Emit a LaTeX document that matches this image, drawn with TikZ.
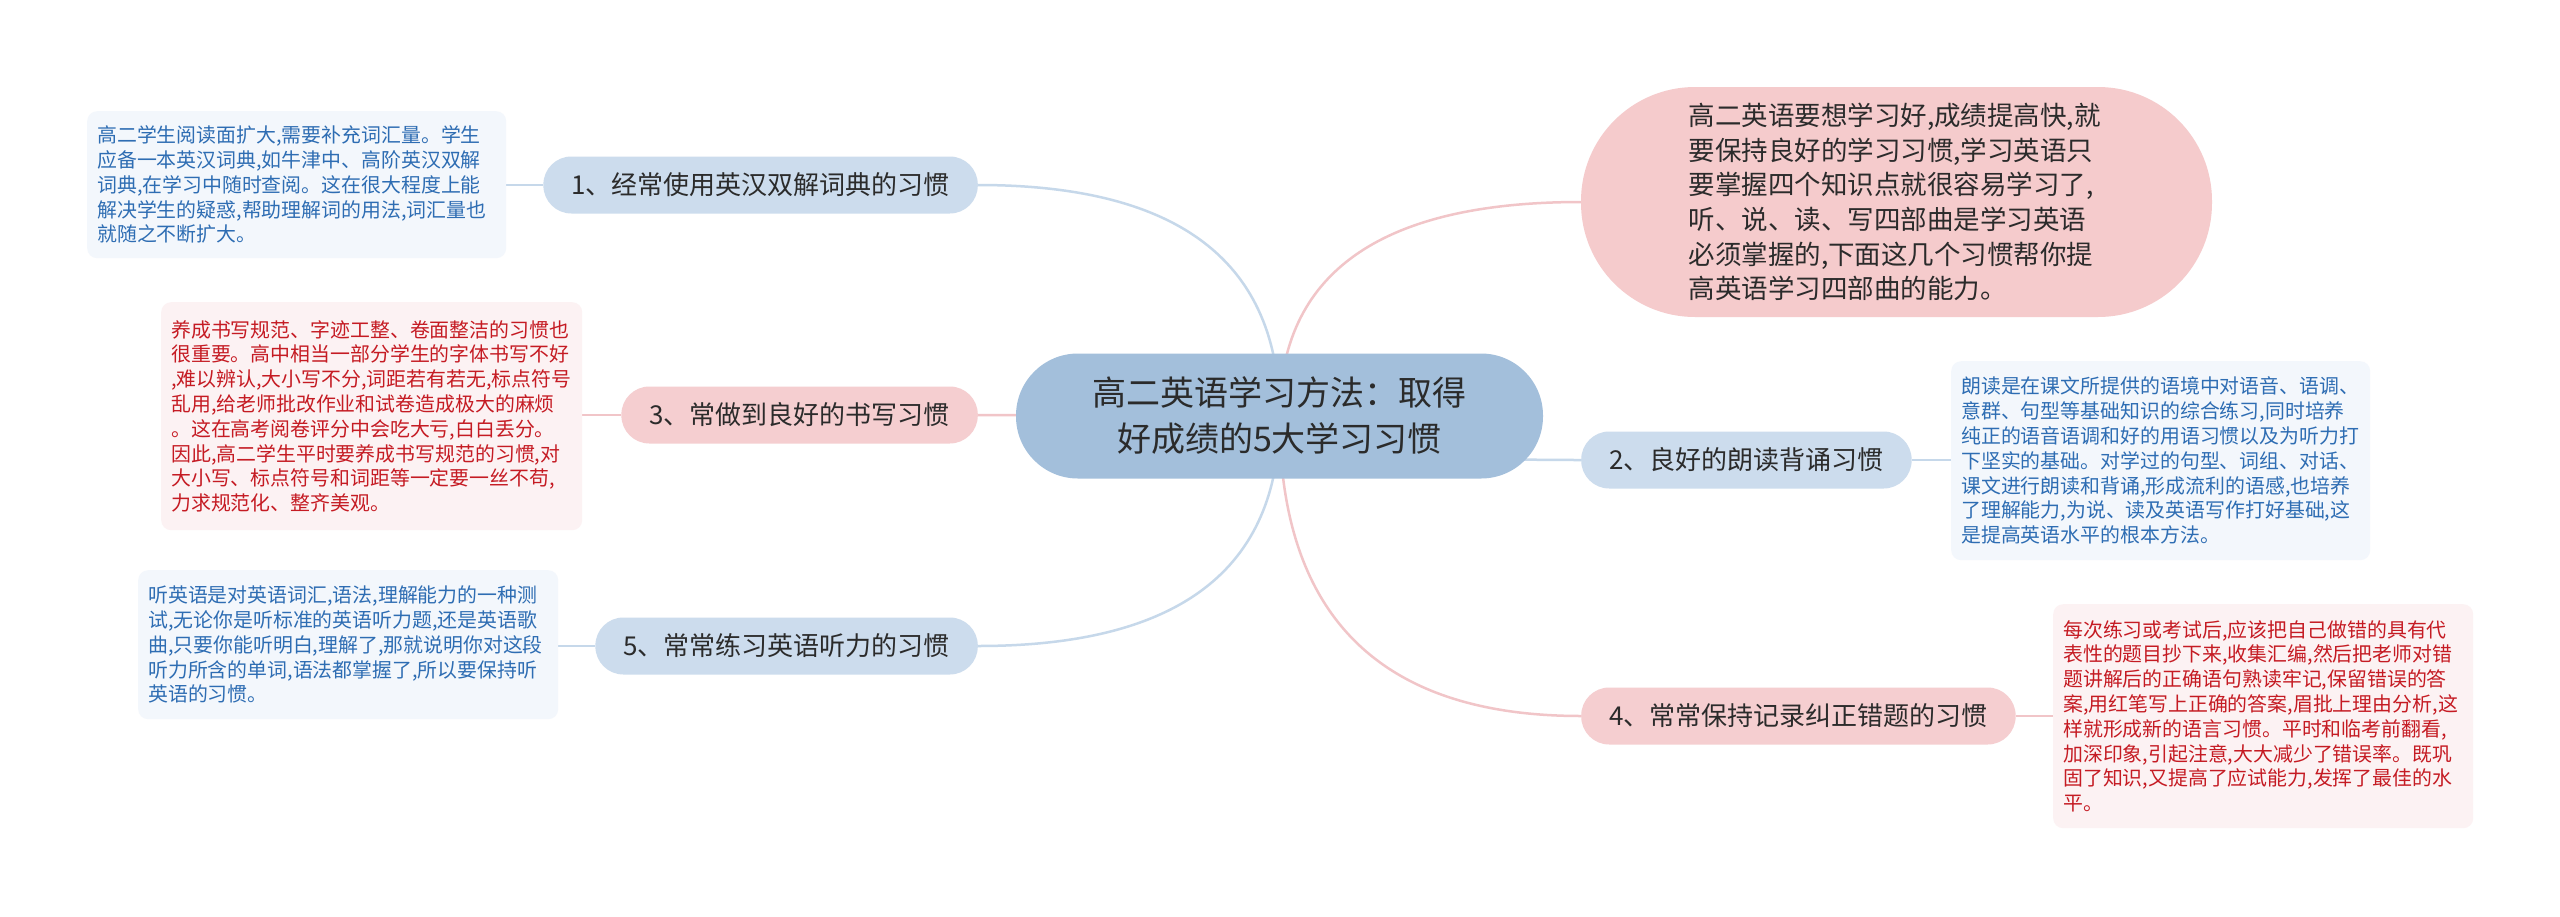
\documentclass[tikz,border=0pt]{standalone}
\usepackage{fontspec}
\setmainfont{Noto Sans CJK SC}
\usetikzlibrary{calc,backgrounds}
\definecolor{cfill}{HTML}{A3BFDB}
\definecolor{bblue}{HTML}{CCDCED}
\definecolor{bpink}{HTML}{F5CED0}
\definecolor{tpink}{HTML}{F5CBCC}
\definecolor{lblue}{HTML}{F3F7FC}
\definecolor{lpink}{HTML}{FCF2F3}
\definecolor{tblue}{HTML}{2E6DB3}
\definecolor{tred}{HTML}{C51B23}
\definecolor{txt}{HTML}{2B2B2B}
\definecolor{lnblue}{HTML}{C6D8EA}
\definecolor{lnpink}{HTML}{F1C5C8}
\newcommand\mmcurve[3]{\draw[#1] (#2.center) .. controls ($(#2.center)!0.667!(#2.center |- #3)$) and ($(#3)!0.667!(#2.center |- #3)$) .. (#3);}
\begin{document}
\begin{tikzpicture}[x=1pt,y=-1pt,
  centernode/.style={rectangle, rounded corners=62pt, fill=cfill, text=txt,
    font=\fontsize{34}{46}\selectfont, align=center,
    minimum width=527pt, minimum height=125pt, inner sep=0pt},
  topnode/.style={rectangle, rounded corners=114pt, fill=tpink, text=txt,
    font=\fontsize{26.5}{34.6}\selectfont, align=left, text width=416pt,
    minimum width=631pt, minimum height=230pt, inner sep=0pt},
  bbranch/.style={rectangle, rounded corners=28pt, fill=bblue, text=txt,
    font=\fontsize{26}{30}\selectfont, minimum height=57pt, inner xsep=28pt, inner ysep=0pt},
  pbranch/.style={bbranch, fill=bpink},
  leafb/.style={rectangle, rounded corners=10pt, fill=lblue, text=tblue,
    font=\fontsize{19.9}{24.8}\selectfont, align=left, inner xsep=10pt, inner ysep=0pt, anchor=north west},
  leafp/.style={leafb, fill=lpink, text=tred},
  blueline/.style={draw=lnblue, line width=2.5pt},
  pinkline/.style={draw=lnpink, line width=2.5pt}]
\useasboundingbox (0,0) rectangle (2560,916);

\node[centernode] (c) at (1279.5,416) {高二英语学习方法：取得\\好成绩的5大学习习惯};
\node[topnode] (t) at (1896.5,202) {高二英语要想学习好,成绩提高快,就\\要保持良好的学习习惯,学习英语只\\要掌握四个知识点就很容易学习了,\\听、说、读、写四部曲是学习英语\\必须掌握的,下面这几个习惯帮你提\\高英语学习四部曲的能力。};

\node[bbranch, anchor=east] (b1) at (978,185) {1、经常使用英汉双解词典的习惯};
\node[pbranch, anchor=east] (b3) at (978,415) {3、常做到良好的书写习惯};
\node[bbranch, anchor=east] (b5) at (978,646) {5、常常练习英语听力的习惯};
\node[bbranch, anchor=west] (b2) at (1581,460) {2、良好的朗读背诵习惯};
\node[pbranch, anchor=west] (b4) at (1581,716) {4、常常保持记录纠正错题的习惯};

\node[leafb, text width=399pt, minimum height=147pt] (l1) at (87,111) {高二学生阅读面扩大,需要补充词汇量。学生\\应备一本英汉词典,如牛津中、高阶英汉双解\\词典,在学习中随时查阅。这在很大程度上能\\解决学生的疑惑,帮助理解词的用法,词汇量也\\就随之不断扩大。};
\node[leafp, text width=401pt, minimum height=228pt] (l3) at (161,302) {养成书写规范、字迹工整、卷面整洁的习惯也\\很重要。高中相当一部分学生的字体书写不好\\,难以辨认,大小写不分,词距若有若无,标点符号\\乱用,给老师批改作业和试卷造成极大的麻烦\\。这在高考阅卷评分中会吃大亏,白白丢分。\\因此,高二学生平时要养成书写规范的习惯,对\\大小写、标点符号和词距等一定要一丝不苟,\\力求规范化、整齐美观。};
\node[leafb, text width=400pt, minimum height=149pt] (l5) at (138,570) {听英语是对英语词汇,语法,理解能力的一种测\\试,无论你是听标准的英语听力题,还是英语歌\\曲,只要你能听明白,理解了,那就说明你对这段\\听力所含的单词,语法都掌握了,所以要保持听\\英语的习惯。};
\node[leafb, text width=399pt, minimum height=199pt] (l2) at (1951,361) {朗读是在课文所提供的语境中对语音、语调、\\意群、句型等基础知识的综合练习,同时培养\\纯正的语音语调和好的用语习惯以及为听力打\\下坚实的基础。对学过的句型、词组、对话、\\课文进行朗读和背诵,形成流利的语感,也培养\\了理解能力,为说、读及英语写作打好基础,这\\是提高英语水平的根本方法。};
\node[leafp, text width=400pt, minimum height=224pt] (l4) at (2053,604) {每次练习或考试后,应该把自己做错的具有代\\表性的题目抄下来,收集汇编,然后把老师对错\\题讲解后的正确语句熟读牢记,保留错误的答\\案,用红笔写上正确的答案,眉批上理由分析,这\\样就形成新的语言习惯。平时和临考前翻看,\\加深印象,引起注意,大大减少了错误率。既巩\\固了知识,又提高了应试能力,发挥了最佳的水\\平。};

\begin{scope}[on background layer]
  \fill[white] (0,0) rectangle (2560,916);
  \mmcurve{blueline}{c}{b1.east}
  \mmcurve{pinkline}{c}{b3.east}
  \mmcurve{blueline}{c}{b5.east}
  \mmcurve{pinkline}{c}{t.west}
  \mmcurve{blueline}{c}{b2.west}
  \mmcurve{pinkline}{c}{b4.west}
  \draw[blueline] (b1.west) -- (b1.west -| l1.east);
  \draw[pinkline] (b3.west) -- (b3.west -| l3.east);
  \draw[blueline] (b5.west) -- (b5.west -| l5.east);
  \draw[blueline] (b2.east) -- (b2.east -| l2.west);
  \draw[pinkline] (b4.east) -- (b4.east -| l4.west);
\end{scope}
\end{tikzpicture}
\end{document}
